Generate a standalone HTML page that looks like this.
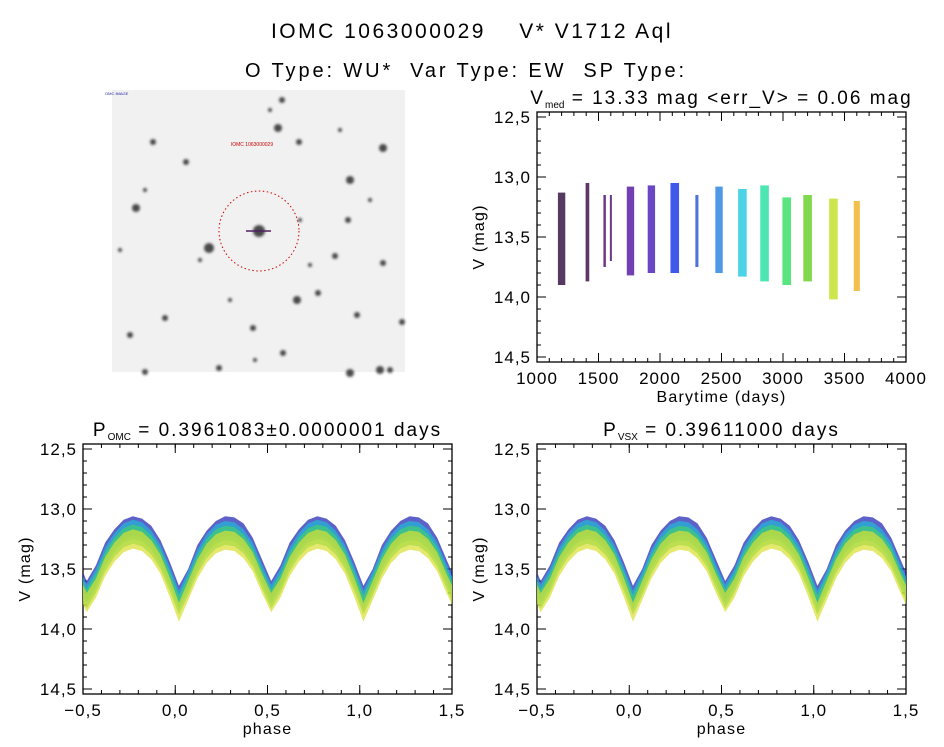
<!DOCTYPE html>
<html><head><meta charset="utf-8">
<style>
html,body{margin:0;padding:0;background:#fff;}
svg{display:block;font-family:"Liberation Sans",sans-serif;}
</style></head>
<body>
<svg id="root" width="944" height="747" viewBox="0 0 944 747">
<defs><filter id="blur"><feGaussianBlur stdDeviation="1.2"/></filter></defs>
<text x="472" y="38" font-size="21" letter-spacing="2.5" text-anchor="middle" xml:space="preserve">IOMC 1063000029    V* V1712 Aql</text>
<text x="466" y="77" font-size="20" letter-spacing="2.9" text-anchor="middle" xml:space="preserve">O Type: WU*  Var Type: EW  SP Type:</text>
<g>
<rect x="112" y="90" width="293" height="282" fill="#f1f1f1"/>
<g id="stars" filter="url(#blur)"></g>
<circle cx="259" cy="231" r="40" fill="none" stroke="#c00" stroke-width="1" stroke-dasharray="1.5,2.5"/>
<line x1="246" y1="231" x2="271" y2="231" stroke="#502060" stroke-width="1.5"/>
<text x="252" y="146" font-size="5" fill="#c00" text-anchor="middle">IOMC 1063000029</text>
<text x="105" y="95" font-size="4" fill="#22a">OMC IMAGE</text>
</g>
<g id="p-time"></g>
<g id="p-omc"></g>
<g id="p-vsx"></g>
</svg>
<script>
const NS='http://www.w3.org/2000/svg';
function mk(tag,attrs,parent){const e=document.createElementNS(NS,tag);for(const k in attrs)e.setAttribute(k,attrs[k]);parent.appendChild(e);return e;}

// star field (estimated positions in image px)
const starX=[259,209,278,350,383,136,297,283,350,357,380,145,219,383,282,153,186,299,402,253,318,348,335,130,165,255,300,200,340,390,145,230,270,310,370,120];
const starY=[231,248,128,180,148,208,300,353,373,315,370,372,368,263,100,142,162,142,322,328,293,220,256,335,318,360,220,260,130,370,190,300,110,265,200,250];
const starR=[6,5,4,4,4,4,4,3,4,3,4,3,3,3,3,3,3,3,3,3,3,3,3,3,3,2,2,2,2,3,2,2,2,2,2,2];
const sg=document.getElementById('stars');
for(let i=0;i<starX.length;i++){
 const c=mk('circle',{cx:starX[i],cy:starY[i],r:starR[i],fill:'#202020',opacity:0.8},sg);
 
 
}

// ---- time series data ----
const tCenters=[1200,1410,1550,1600,1760,1930,2120,2300,2480,2670,2850,3030,3200,3410,3600];
const tWidths=[60,30,20,15,60,60,70,25,60,70,70,70,70,70,50];
const tMin=[13.13,13.05,13.15,13.15,13.08,13.07,13.05,13.15,13.08,13.1,13.07,13.17,13.15,13.18,13.2];
const tMax=[13.9,13.87,13.75,13.7,13.82,13.8,13.8,13.75,13.8,13.83,13.87,13.9,13.87,14.02,13.95];
const tColors=['#2a0838','#32063f','#48056a','#48056a','#5010a0','#4418b4','#1030e6','#2050d0','#2080e0','#20c8e0','#20e0a0','#30e060','#60d020','#c0e020','#f0b020'];

// ---- phase data (phase 0..1 step 0.05) ----
const phases=[0,0.05,0.1,0.15,0.2,0.25,0.3,0.35,0.4,0.45,0.5,0.55,0.6,0.65,0.7,0.75,0.8,0.85,0.9,0.95];
const magBlue=[13.72,13.58,13.38,13.26,13.18,13.14,13.15,13.2,13.32,13.5,13.68,13.55,13.36,13.25,13.17,13.14,13.16,13.22,13.34,13.52];
const magCyan=[13.76,13.6,13.42,13.29,13.21,13.18,13.19,13.25,13.36,13.54,13.71,13.58,13.4,13.28,13.2,13.17,13.19,13.26,13.38,13.56];
const magGreen=[13.8,13.64,13.46,13.33,13.25,13.22,13.23,13.29,13.4,13.58,13.75,13.62,13.44,13.32,13.24,13.21,13.23,13.3,13.42,13.6];
const magYellow=[13.86,13.68,13.5,13.37,13.29,13.26,13.27,13.33,13.44,13.62,13.78,13.66,13.48,13.36,13.28,13.25,13.27,13.34,13.46,13.65];
const phaseSeries=[magBlue,magCyan,magGreen,magYellow];
const phaseColors=['#1a20b0','#20b8d8','#40d070','#d8e030'];
const yTicks=['12.5','13.0','13.5','14.0','14.5'];
const tTicks=['1000','1500','2000','2500','3000','3500','4000'];
const phTicks=['-0.5','0.0','0.5','1.0','1.5'];

function frame(g,L,R,T,B,xmin,xmax,xTickLabels,xMinor,ymin,ymax,xlab,title,sub,titleRest){
 const sx=v=>L+(v-xmin)/(xmax-xmin)*(R-L);
 const sy=v=>T+(v-ymin)/(ymax-ymin)*(B-T);
 const fT=sy(ymin)-5,fB=sy(ymax)+5;
 const r=mk('rect',{x:L,y:fT,width:R-L,height:fB-fT,fill:'none',stroke:'#000','stroke-width':1.3},g);
 
 for(let v=ymin;v<=ymax+1e-9;v+=0.1){
  const y=sy(v),major=Math.abs(v*2-Math.round(v*2))<1e-6,len=major?9:4;
  mk('line',{x1:L,y1:y,x2:L+len,y2:y,stroke:'#000'},g);
  mk('line',{x1:R,y1:y,x2:R-len,y2:y,stroke:'#000'},g);
 }
 yTicks.forEach(t=>{const e=mk('text',{x:L-6,y:sy(+t)+6,'font-size':17,'letter-spacing':1,'text-anchor':'end'},g);e.textContent=t.replace('.',',');
  });
 xTickLabels.forEach(t=>{const v=+t,x=sx(v);
  mk('line',{x1:x,y1:fB,x2:x,y2:fB-9,stroke:'#000'},g);mk('line',{x1:x,y1:fT,x2:x,y2:fT+9,stroke:'#000'},g);
  const e=mk('text',{x:x,y:fB+22,'font-size':17,'letter-spacing':1,'text-anchor':'middle'},g);e.textContent=t.replace('-','\u2212').replace('.',',');
  });
 for(let v=xmin;v<=xmax+1e-9;v+=xMinor){const x=sx(v);
  mk('line',{x1:x,y1:fB,x2:x,y2:fB-4,stroke:'#000'},g);mk('line',{x1:x,y1:fT,x2:x,y2:fT+4,stroke:'#000'},g);}
 const yl=mk('text',{x:0,y:0,'font-size':16,'letter-spacing':1.2,'text-anchor':'middle',transform:`translate(${L-53},${(fT+fB)/2}) rotate(-90)`},g);yl.textContent='V (mag)';
 
 const xl=mk('text',{x:(L+R)/2,y:fB+40,'font-size':16,'letter-spacing':1.2,'text-anchor':'middle'},g);xl.textContent=xlab;
 
 const tt=mk('text',{x:(L+R)/2,y:fT-8,'font-size':19,'letter-spacing':2,'text-anchor':'middle'},g);
 
 const a=mk('tspan',{},tt);a.textContent=title;
 const b=mk('tspan',{'font-size':10,'letter-spacing':0,dy:4},tt);b.textContent=sub;
 const c=mk('tspan',{dy:-4},tt);c.textContent=titleRest;
 return {sx,sy};
}

// time series plot
(function(){
 const g=document.getElementById('p-time');
 const {sx,sy}=frame(g,537,906,117,357,1000,4000,tTicks,100,12.5,14.5,'Barytime (days)','V','med',' = 13.33 mag <err_V> = 0.06 mag');
 for(let i=0;i<tCenters.length;i++){
  const x0=sx(tCenters[i]-tWidths[i]/2),x1=sx(tCenters[i]+tWidths[i]/2);
  const r=mk('rect',{x:x0,y:sy(tMin[i]),width:Math.max(2,x1-x0),height:sy(tMax[i])-sy(tMin[i]),fill:tColors[i],opacity:0.8},g);
  
  
 }
})();

function phasePlot(id,L,R,shift,sub,rest){
 const g=document.getElementById(id);
 const {sx,sy}=frame(g,L,R,449,689,-0.5,1.5,phTicks,0.1,12.5,14.5,'phase','P',sub,rest);
 const clip='c'+id;
 const cp=mk('clipPath',{id:clip},g);mk('rect',{x:L,y:440,width:R-L,height:260},cp);
 phaseSeries.forEach((ser,si)=>{
  const up=[],lo=[];
  for(let cyc=-1;cyc<=2;cyc++){
   for(let i=0;i<phases.length;i++){
    const p=phases[i]+cyc+shift;
    up.push([sx(p),sy(ser[i]-0.08)]);lo.push([sx(p),sy(ser[i]+0.08)]);
   }
  }
  const d='M'+up.map(q=>q.join(',')).join('L')+'L'+lo.reverse().map(q=>q.join(',')).join('L')+'Z';
  const p=mk('path',{d:d,fill:phaseColors[si],opacity:0.7,'clip-path':`url(#${clip})`},g);
  
  
 });
}
phasePlot('p-omc',83,452,0.02,'OMC',' = 0.3961083\u00b10.0000001 days');
phasePlot('p-vsx',537,906,0.02,'VSX',' = 0.39611000 days');
</script>
</body></html>
